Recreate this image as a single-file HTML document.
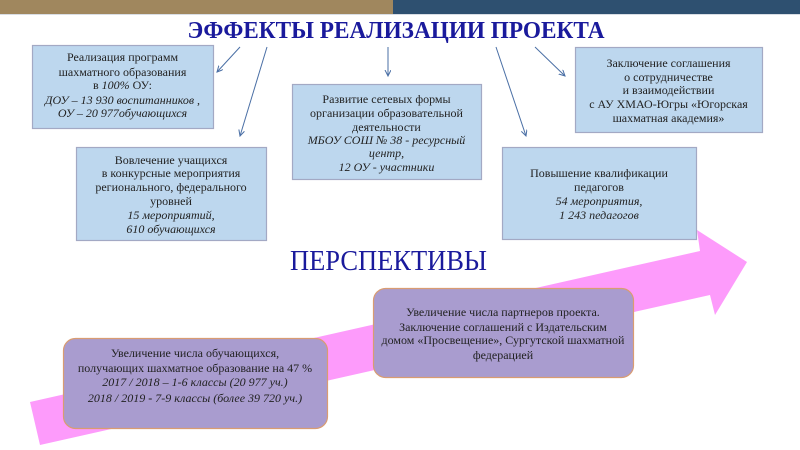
<!DOCTYPE html>
<html><head><meta charset="utf-8">
<style>
html,body{margin:0;padding:0;background:#fff;}
svg{display:block;}
text{font-family:"Liberation Serif","Noto Serif CJK SC",serif;}
.t{font-size:12px;fill:#222;text-anchor:middle;}
.i{font-style:italic;}
</style></head>
<body>
<svg width="800" height="450" viewBox="0 0 800 450" xmlns="http://www.w3.org/2000/svg">
<defs>
<marker id="ah" markerWidth="8" markerHeight="8" refX="6" refY="3" orient="auto" markerUnits="userSpaceOnUse">
<path d="M0,0 L6,3 L0,6" fill="none" stroke="#4a6fa5" stroke-width="1"/>
</marker>
</defs>
<rect x="0" y="0" width="800" height="450" fill="#fff"/>
<!-- top bar -->
<rect x="0" y="0" width="393" height="14" fill="#a0875e"/>
<rect x="393" y="0" width="407" height="14" fill="#2e5070"/>
<rect x="0" y="14" width="800" height="1" fill="#d8dde4"/>

<!-- title -->
<text x="396" y="38" font-size="24" font-weight="bold" fill="#1a1a9c" text-anchor="middle" textLength="417" lengthAdjust="spacingAndGlyphs">ЭФФЕКТЫ РЕАЛИЗАЦИИ ПРОЕКТА</text>

<!-- connector arrows -->
<g stroke="#4a6fa5" stroke-width="1" fill="none" marker-end="url(#ah)">
<line x1="240" y1="47" x2="217" y2="72"/>
<line x1="267" y1="47" x2="240" y2="136"/>
<line x1="388" y1="47" x2="388" y2="76"/>
<line x1="496" y1="47" x2="526" y2="136"/>
<line x1="535" y1="47" x2="565" y2="76"/>
</g>

<!-- pink big arrow -->
<polygon points="30,402 700,251 697,230 747,262 715,315 710,295 40,445" fill="#fd9bfb"/>

<!-- blue boxes -->
<g fill="#bdd7ee" stroke="#a3a9c4" stroke-width="1.2">
<rect x="32.5" y="45.5" width="181" height="83"/>
<rect x="76.5" y="147.5" width="190" height="93"/>
<rect x="292.5" y="84.5" width="189" height="95"/>
<rect x="575.5" y="47.5" width="187" height="85"/>
<rect x="502.5" y="147.5" width="194" height="92"/>
</g>

<!-- box1 -->
<text class="t" x="122.5" y="61">Реализация программ</text>
<text class="t" x="122.5" y="76">шахматного образования</text>
<text class="t" x="122.5" y="89">в <tspan class="i">100%</tspan> ОУ:</text>
<text class="t i" x="122.5" y="104">ДОУ – 13 930 воспитанников ,</text>
<text class="t i" x="122.5" y="117">ОУ – 20 977обучающихся</text>

<!-- box2 -->
<text class="t" x="171" y="164">Вовлечение учащихся</text>
<text class="t" x="171" y="177">в конкурсные мероприятия</text>
<text class="t" x="171" y="191">регионального, федерального</text>
<text class="t" x="171" y="205">уровней</text>
<text class="t i" x="171" y="219">15 мероприятий,</text>
<text class="t i" x="171" y="233">610 обучающихся</text>

<!-- box3 -->
<text class="t" x="386.5" y="103">Развитие сетевых формы</text>
<text class="t" x="386.5" y="117">организации образовательной</text>
<text class="t" x="386.5" y="131">деятельности</text>
<text class="t i" x="386.5" y="144">МБОУ СОШ № 38 - ресурсный</text>
<text class="t i" x="386.5" y="157">центр,</text>
<text class="t i" x="386.5" y="171">12 ОУ - участники</text>

<!-- box4 -->
<text class="t" x="668.5" y="67">Заключение соглашения</text>
<text class="t" x="668.5" y="81">о сотрудничестве</text>
<text class="t" x="668.5" y="94">и взаимодействии</text>
<text class="t" x="668.5" y="108">с АУ ХМАО-Югры «Югорская</text>
<text class="t" x="668.5" y="122">шахматная академия»</text>

<!-- box5 -->
<text class="t" x="599" y="177">Повышение квалификации</text>
<text class="t" x="599" y="191">педагогов</text>
<text class="t i" x="599" y="205">54 мероприятия,</text>
<text class="t i" x="599" y="219">1 243 педагогов</text>

<!-- ПЕРСПЕКТИВЫ -->
<text x="388.5" y="270" font-size="29" fill="#1a1a9c" text-anchor="middle" textLength="197" lengthAdjust="spacingAndGlyphs">ПЕРСПЕКТИВЫ</text>

<!-- purple boxes -->
<g fill="#a99ccf" stroke="#d99c72" stroke-width="1.2">
<rect x="63.5" y="338.5" width="264" height="90" rx="12" ry="12"/>
<rect x="373.5" y="288.5" width="260" height="89" rx="12" ry="12"/>
</g>

<text class="t" x="195" y="357">Увеличение числа обучающихся,</text>
<text class="t" x="195" y="372">получающих шахматное образование на  47 %</text>
<text class="t i" x="195" y="386">2017 / 2018 – 1-6 классы (20 977 уч.)</text>
<text class="t i" x="195" y="402">2018 / 2019 <tspan font-style="normal" font-weight="bold">-</tspan> 7-9 классы (более 39 720 уч.)</text>

<text class="t" x="503" y="316">Увеличение числа партнеров проекта.</text>
<text class="t" x="503" y="331">Заключение соглашений с Издательским</text>
<text class="t" x="503" y="344">домом «Просвещение», Сургутской шахматной</text>
<text class="t" x="503" y="359">федерацией</text>
</svg>
</body></html>
